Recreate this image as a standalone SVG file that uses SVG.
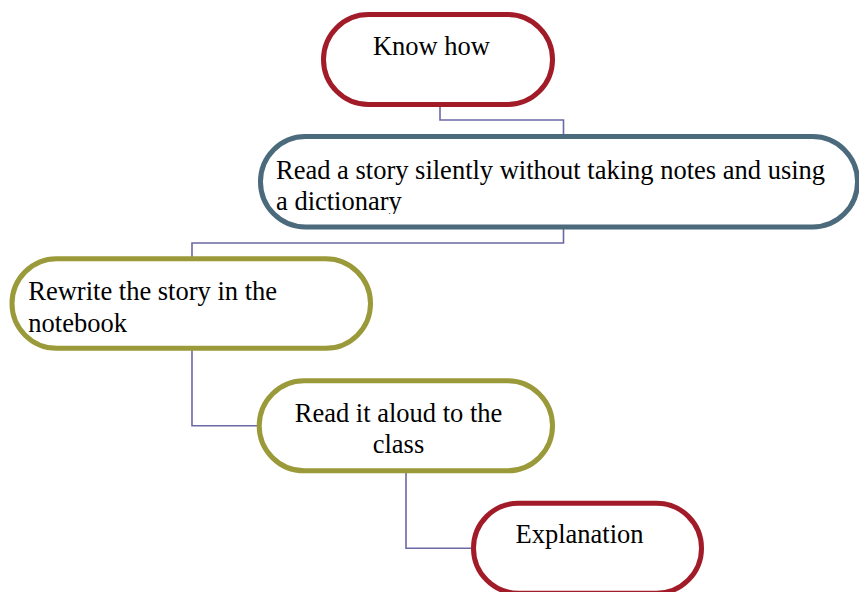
<svg xmlns="http://www.w3.org/2000/svg" width="859" height="592" viewBox="0 0 859 592">
<style>
.node{fill:#ffffff;stroke-width:5}
.red{stroke:#A11C28}
.blue{stroke:#4B6A7C}
.olive{stroke:#9A9A3A}
.conn{fill:none;stroke:#6B68A4;stroke-width:1.6}
text{font-family:"Liberation Serif","Times New Roman",serif;font-size:26.5px;fill:#000000}
</style>
<defs>
<clipPath id="clip2"><rect x="262" y="139" width="600" height="75"/></clipPath>
</defs>
<rect width="859" height="592" fill="#ffffff"/>
<g id="connectors">
<polyline class="conn" points="440,105 440,120 563.5,120 563.5,136"/>
<polyline class="conn" points="563.5,228 563.5,243 192,243 192,259"/>
<polyline class="conn" points="192,349 192,425.7 259,425.7"/>
<polyline class="conn" points="406,472 406,548.3 473,548.3"/>
</g>
<g id="node-know-how">
<rect class="node red" x="323.5" y="14.5" width="229" height="90" rx="45" ry="45"/>
<text x="431.5" y="55" text-anchor="middle">Know how</text>
</g>
<g id="node-read-story">
<rect class="node blue" x="260.5" y="136.5" width="597" height="90.5" rx="45" ry="45"/>
<g clip-path="url(#clip2)">
<text x="276" y="178.5">Read a story silently without taking notes and using</text>
<text x="276" y="210">a dictionary</text>
</g>
</g>
<g id="node-rewrite">
<rect class="node olive" x="12" y="258.8" width="358.5" height="89.5" rx="44.7" ry="44.7"/>
<text x="28.3" y="300">Rewrite the story in the</text>
<text x="28.3" y="331.5">notebook</text>
</g>
<g id="node-read-aloud">
<rect class="node olive" x="259.2" y="380.8" width="293.3" height="90" rx="45" ry="45"/>
<text x="398.5" y="421.7" text-anchor="middle">Read it aloud to the</text>
<text x="398.5" y="452.7" text-anchor="middle">class</text>
</g>
<g id="node-explanation">
<rect class="node red" x="473.5" y="503.2" width="228" height="90" rx="45" ry="45"/>
<text x="579.5" y="543" text-anchor="middle">Explanation</text>
</g>
</svg>
